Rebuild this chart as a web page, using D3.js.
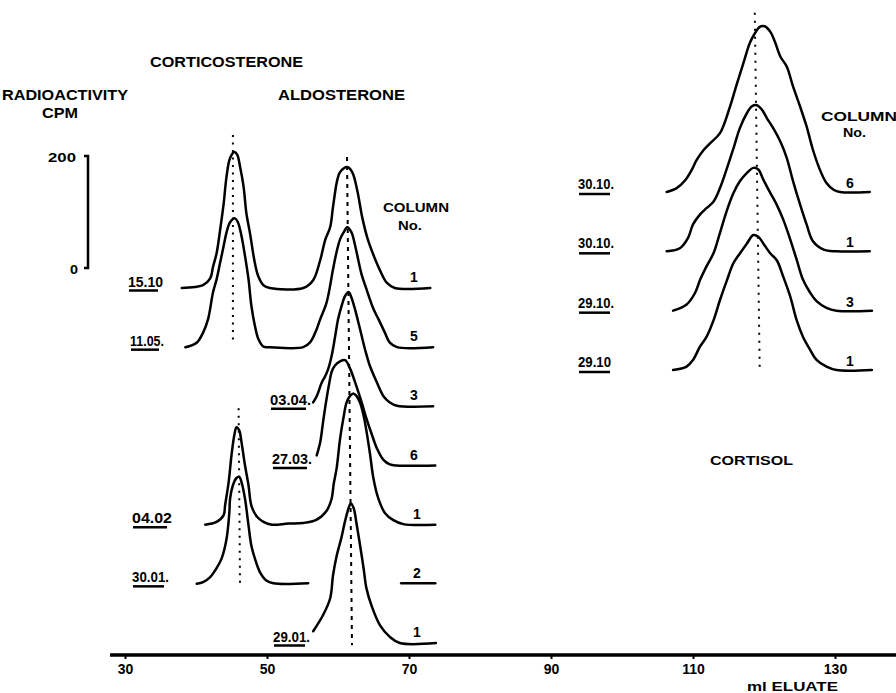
<!DOCTYPE html>
<html><head><meta charset="utf-8">
<script src="https://cdn.jsdelivr.net/npm/d3@7"></script>
<style>body{margin:0;background:#fff}svg text{font-family:"Liberation Sans",Arial,sans-serif;font-weight:bold;fill:#000}</style>
</head><body>
<svg id="c" width="896" height="693"></svg>
<script>
// ---------------- DATA ----------------
const leftDates = ["15.10","11.05.","03.04.","27.03.","04.02","30.01.","29.01."];
const leftColumns = ["1","5","3","6","1","2","1"];
const cortisolDates = ["30.10.","30.10.","29.10.","29.10"];
const cortisolColumns = ["6","1","3","1"];
const xTicks = [30,50,70,90,110,130];
const scaleBarValues = [0,200];

// [ml eluate, cpm] per chromatogram
const trace_1510 = [[38.0,0],[41.0,5],[42.0,17],[42.4,38],[42.9,62],[43.4,104],[43.9,151],[44.3,199],[44.8,232],[45.4,243],[45.8,238],[46.2,217],[46.7,181],[47.1,133],[47.6,98],[48.3,44],[48.8,20],[49.5,5],[50.4,0],[55.1,0],[56.5,14],[57.5,50],[58.2,86],[58.9,109],[59.3,145],[59.9,193],[60.3,207],[61.3,216],[62.0,207],[62.7,175],[63.4,127],[64.1,91],[64.9,62],[65.9,32],[66.9,9],[68.0,0],[73.0,0]];
const trace_1105 = [[38.5,0],[40.1,8],[41.0,26],[41.7,50],[42.4,98],[42.9,121],[43.4,151],[43.9,181],[44.3,205],[44.8,223],[45.5,230],[45.9,223],[46.4,199],[46.9,163],[47.4,121],[47.8,74],[48.3,38],[48.8,14],[49.5,1],[50.4,0],[55.1,0],[56.1,9],[56.8,26],[57.5,50],[58.4,80],[59.3,139],[59.8,170],[60.3,193],[60.8,205],[61.3,214],[61.9,205],[62.4,182],[62.9,153],[63.3,131],[64.0,104],[65.0,68],[65.7,50],[66.6,26],[67.3,8],[68.3,0],[73.4,0]];
const trace_0304 = [[56.5,7],[57.0,18],[57.7,42],[58.2,54],[58.6,66],[59.1,90],[59.6,125],[60.0,155],[60.5,179],[61.0,197],[61.5,204],[61.9,194],[62.4,173],[63.1,138],[63.8,102],[64.5,72],[65.5,42],[66.4,18],[67.3,7],[68.3,1],[73.4,0]];
const trace_2703 = [[57.0,18],[57.5,42],[57.9,78],[58.4,120],[58.8,149],[59.1,167],[59.6,179],[60.3,186],[61.0,188],[61.7,173],[62.4,149],[63.3,114],[64.0,84],[64.8,54],[65.5,30],[66.4,10],[67.3,2],[68.3,0],[73.7,0]];
const trace_0402 = [[41.3,0],[42.9,5],[43.9,17],[44.1,35],[44.6,76],[45.0,124],[45.4,160],[45.7,174],[46.1,168],[46.4,148],[46.9,106],[47.4,70],[47.8,34],[48.6,14],[49.5,5],[50.7,0],[53.0,2],[55.1,3],[57.0,9],[58.4,25],[59.1,46],[59.4,73],[59.8,100],[60.3,154],[60.8,193],[61.2,218],[61.7,230],[62.2,234],[62.6,230],[63.1,218],[63.6,195],[64.0,168],[64.5,127],[65.0,82],[65.7,46],[66.6,21],[67.8,8],[69.2,1],[73.7,0]];
const trace_3001 = [[40.1,0],[41.0,3],[42.0,12],[42.7,24],[43.6,45],[44.3,80],[44.7,128],[44.8,152],[45.2,176],[45.7,189],[46.1,191],[46.4,182],[46.9,152],[47.4,104],[47.8,68],[48.3,45],[49.0,21],[49.9,6],[50.9,1],[55.8,1]];
const trace_3001_tail = [[68.9,1],[73.7,1]];
const trace_2901 = [[56.5,21],[57.9,50],[58.9,80],[59.3,121],[59.8,155],[60.5,189],[61.0,218],[61.5,241],[61.8,249],[62.2,241],[62.6,214],[63.1,175],[63.6,134],[64.0,98],[64.8,64],[65.9,32],[67.3,11],[68.7,0],[73.8,0]];
const trace_3010a = [[106.3,0],[107.7,7],[108.9,21],[109.8,39],[110.5,57],[111.5,75],[112.4,87],[113.8,105],[115.2,152],[116.2,194],[117.1,230],[118.0,266],[118.7,283],[119.4,295],[120.1,296],[120.9,286],[121.6,266],[122.3,242],[123.2,224],[124.1,188],[125.1,152],[126.0,117],[126.9,75],[127.9,39],[128.8,16],[129.8,4],[130.7,0],[134.9,0]];
const trace_3010b = [[106.3,0],[108.2,6],[109.3,24],[110.0,48],[111.0,66],[111.9,77],[112.9,89],[113.8,113],[114.8,149],[115.7,184],[116.6,220],[117.6,247],[118.3,259],[119.0,261],[119.7,253],[120.4,238],[121.3,220],[122.3,196],[123.2,167],[124.1,125],[125.1,83],[126.0,48],[126.9,18],[128.4,3],[130.2,0],[134.9,0]];
const trace_2910a = [[107.2,0],[109.1,11],[110.3,32],[111.0,55],[111.9,79],[112.9,103],[113.8,139],[114.8,180],[115.7,210],[116.6,231],[117.6,246],[118.5,255],[119.2,252],[119.9,234],[120.9,210],[121.8,189],[122.7,163],[123.7,127],[124.6,91],[125.5,55],[126.5,32],[127.4,17],[128.8,5],[130.2,0],[135.2,0]];
const trace_2910b = [[107.2,0],[109.1,6],[110.0,18],[111.0,42],[111.9,59],[112.9,89],[113.8,125],[114.8,161],[115.7,191],[116.6,208],[117.6,226],[118.5,241],[119.2,238],[119.9,226],[120.9,208],[121.8,196],[122.7,167],[123.7,131],[124.6,89],[125.5,59],[126.5,36],[127.4,18],[128.8,6],[130.2,0],[135.2,0]];

// which trace belongs to which row (group, row index)
const traceRows = [
  {data: trace_1510, group: "left", row: 0},
  {data: trace_1105, group: "left", row: 1},
  {data: trace_0304, group: "left", row: 2},
  {data: trace_2703, group: "left", row: 3},
  {data: trace_0402, group: "left", row: 4},
  {data: trace_3001, group: "left", row: 5},
  {data: trace_3001_tail, group: "left", row: 5},
  {data: trace_2901, group: "left", row: 6},
  {data: trace_3010a, group: "right", row: 0},
  {data: trace_3010b, group: "right", row: 1},
  {data: trace_2910a, group: "right", row: 2},
  {data: trace_2910b, group: "right", row: 3}
];

// peak-position reference lines: ml at top/bottom, row + cpm at top/bottom
const peakLines = [
  {group: "left", ml: [45.2, 45.2], row: [0, 1], cpm: [273, 9], dash: "2,5.5"},
  {group: "left", ml: [46.0, 46.2], row: [4, 5], cpm: [208, -4], dash: "2,5.5"},
  {group: "left", ml: [61.27, 61.97], row: [0, 6], cpm: [234, -4], dash: "4,5"},
  {group: "right", ml: [118.7, 119.4], row: [0, 3], cpm: [320, -4], dash: "2,6"}
];

// ---------------- LAYOUT ----------------
const W = 896, H = 693;
const svg = d3.select("#c");
const x = d3.scaleLinear().domain([30, 130]).range([125, 835]);
const h = d3.scaleLinear().domain([0, 200]).range([0, 112]);
const rowY = {
  left: d3.scalePoint().domain(d3.range(leftDates.length)).range([288, 643]),
  right: d3.scalePoint().domain(d3.range(cortisolDates.length)).range([192, 370])
};
const axisY = 655;

const line = (group, row) => d3.line()
  .x(d => x(d[0]))
  .y(d => rowY[group](row) - h(d[1]))
  .curve(d3.curveCatmullRom.alpha(0.5));

// traces
svg.append("g").selectAll("path").data(traceRows).join("path")
  .attr("d", t => line(t.group, t.row)(t.data))
  .attr("fill", "none").attr("stroke", "#000")
  .attr("stroke-width", 2.5).attr("stroke-linejoin", "round").attr("stroke-linecap", "round");

// peak reference lines
svg.append("g").selectAll("line").data(peakLines).join("line")
  .attr("x1", d => x(d.ml[0])).attr("x2", d => x(d.ml[1]))
  .attr("y1", d => rowY[d.group](d.row[0]) - h(d.cpm[0]))
  .attr("y2", d => rowY[d.group](d.row[1]) - h(d.cpm[1]))
  .attr("stroke", "#000").attr("stroke-width", 2).attr("stroke-dasharray", d => d.dash);

// text helper
function txt(s, tx, ty, size, len, anchor) {
  const t = svg.append("text").attr("x", tx).attr("y", ty).attr("font-size", size)
    .attr("text-anchor", anchor || "start").text(s);
  if (len) t.attr("textLength", len).attr("lengthAdjust", "spacingAndGlyphs");
  return t;
}

// x axis
svg.append("line").attr("x1", 110).attr("x2", W).attr("y1", axisY).attr("y2", axisY)
  .attr("stroke", "#000").attr("stroke-width", 3.5);
const ax = svg.append("g").attr("transform", `translate(0,${axisY})`)
  .call(d3.axisBottom(x).tickValues(xTicks).tickSize(4).tickFormat(d3.format("d")));
ax.select(".domain").remove();
ax.selectAll(".tick line").attr("stroke", "#000").attr("stroke-width", 2);
ax.selectAll(".tick text").attr("font-size", 14).attr("y", 9).attr("dy", "0.71em")
  .attr("font-family", "Liberation Sans").attr("font-weight", "bold").attr("fill", "#000");
txt("ml  ELUATE", 747, 691, 13, 91);

// scale bar
const barX = 88, barBottom = 268;
svg.append("path")
  .attr("d", `M${barX-4},${barBottom - h(scaleBarValues[1])}H${barX}V${barBottom}H${barX-4}`)
  .attr("fill", "none").attr("stroke", "#000").attr("stroke-width", 2.5);
txt(String(scaleBarValues[1]), 76, barBottom - h(scaleBarValues[1]) + 6, 13, 28, "end");
txt(String(scaleBarValues[0]), 78, barBottom + 6, 13, 8, "end");

// titles
txt("CORTICOSTERONE", 150, 67, 14, 153);
txt("RADIOACTIVITY", 2, 100, 14, 126);
txt("CPM", 42, 118, 14, 36);
txt("ALDOSTERONE", 278, 100, 14, 127);
txt("COLUMN", 383, 212, 13, 66);
txt("No.", 398, 230, 12, 24);
txt("CORTISOL", 710, 465, 13, 83);
txt("COLUMN", 821, 121, 12, 76);
txt("No.", 843, 137, 12, 23);

// date labels with underline
const leftDateX = [128, 130, 270, 272, 132, 132, 273];
const leftDateW = [35, 34, 41, 40, 40, 37, 37];
leftDates.forEach((d, i) => {
  const by = rowY.left(i);
  txt(d, leftDateX[i], by - 1.5, 14, leftDateW[i]);
  svg.append("line").attr("x1", leftDateX[i] + 1).attr("x2", leftDateX[i] + leftDateW[i] - 5)
    .attr("y1", by + 2.5).attr("y2", by + 2.5).attr("stroke", "#000").attr("stroke-width", 2.5);
});
const rightDateX = 578;
const rightDateW = [36, 36, 36, 33];
cortisolDates.forEach((d, i) => {
  const by = rowY.right(i);
  txt(d, rightDateX, by - 3, 14, rightDateW[i]);
  svg.append("line").attr("x1", rightDateX + 1).attr("x2", rightDateX + 32)
    .attr("y1", by + 2).attr("y2", by + 2).attr("stroke", "#000").attr("stroke-width", 2.5);
});

// column numbers
leftColumns.forEach((c, i) => txt(c, i < 4 ? 414 : 417, rowY.left(i) - 6, 14, null, "middle"));
cortisolColumns.forEach((c, i) => txt(c, 850, rowY.right(i) - 4, 14, null, "middle"));
</script>
</body></html>
